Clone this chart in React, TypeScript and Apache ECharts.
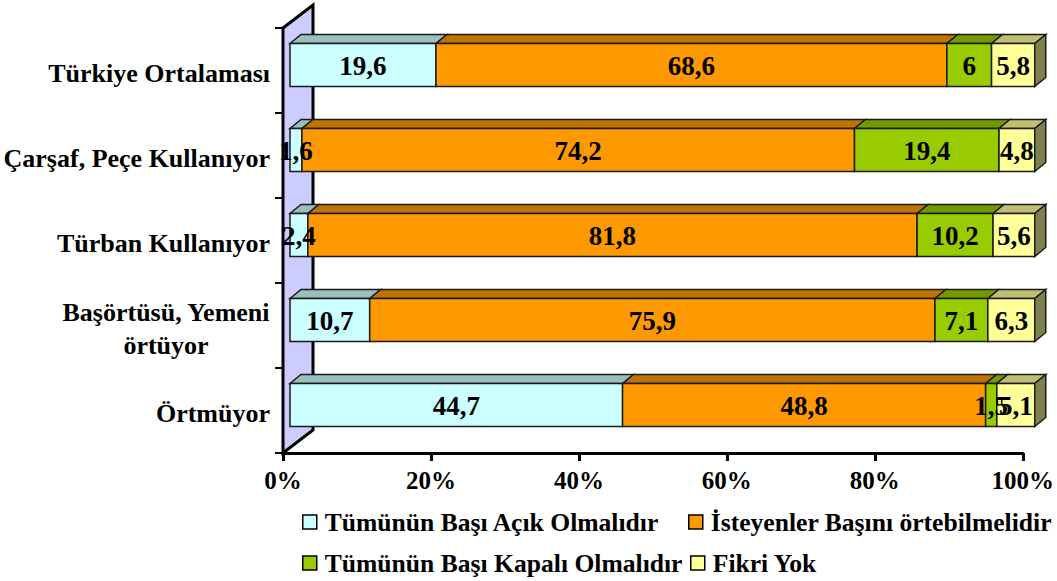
import React, { useEffect, useRef } from "react";
import * as echarts from "echarts";

const categories = [
  "Türkiye Ortalaması",
  "Çarşaf, Peçe Kullanıyor",
  "Türban Kullanıyor",
  "Başörtüsü, Yemeni\nörtüyor",
  "Örtmüyor",
];
const seriesNames = [
  "Tümünün Başı Açık Olmalıdır",
  "İsteyenler Başını örtebilmelidir",
  "Tümünün Başı Kapalı Olmalıdır",
  "Fikri Yok",
];
const acik = [19.6, 1.6, 2.4, 10.7, 44.7];
const isteyen = [68.6, 74.2, 81.8, 75.9, 48.8];
const kapali = [6, 19.4, 10.2, 7.1, 1.5];
const fikri = [5.8, 4.8, 5.6, 6.3, 5.1];
const xTicks = [0, 20, 40, 60, 80, 100];

const FRONT = ["#ccffff", "#ff9900", "#99cc00", "#ffff99"];
const TOP = ["#99bfbf", "#bf7300", "#739900", "#bfbf73"];
const SIDE = "#80804d";
const FONT = "'Liberation Serif', 'Times New Roman', serif";

const values = [acik, isteyen, kapali, fikri];

export default function App() {
  const ref = useRef<HTMLDivElement>(null);
  useEffect(() => {
    if (!ref.current) return;
    const chart = echarts.init(ref.current, null, { renderer: "svg" });

    const totals = categories.map((_, c) => values.reduce((s, arr) => s + arr[c], 0));
    const segData = values.map((arr, si) =>
      arr.map((v, c) => {
        let start = 0;
        for (let k = 0; k < si; k++) start += (values[k][c] / totals[c]) * 100;
        const end = start + (v / totals[c]) * 100;
        return [start, end, c, v];
      })
    );
    const labelData: number[][] = [];
    segData.forEach((arr) => arr.forEach((d) => labelData.push(d)));

    const DX = 11;
    const DY = 9;
    const geom = (api: any, s: number, e: number, c: number) => {
      const base = api.coord([0, c]);
      const p0 = api.coord([s, c]);
      const p1 = api.coord([e, c]);
      const band = api.size([0, 1])[1];
      const k = 745 / 740;
      const x0 = base[0] + 7 + (p0[0] - base[0]) * k;
      const x1 = base[0] + 7 + (p1[0] - base[0]) * k;
      const h = band * 0.506;
      const cy = p0[1] - band * 0.065;
      return { x0, x1, yt: cy - h / 2, yb: cy + h / 2, cy };
    };
    const stroke = "#1a1a1a";

    const segSeries = segData.map((data, si) => ({
      type: "custom",
      name: seriesNames[si],
      z: 2,
      itemStyle: { color: FRONT[si], borderColor: "#000", borderWidth: 1 },
      data,
      renderItem: (params: any, api: any) => {
        const s = api.value(0), e = api.value(1), c = api.value(2);
        const g = geom(api, s, e, c);
        const children: any[] = [
          {
            type: "polygon",
            shape: {
              points: [
                [g.x0, g.yt],
                [g.x0 + DX, g.yt - DY],
                [g.x1 + DX, g.yt - DY],
                [g.x1, g.yt],
              ],
            },
            style: { fill: TOP[si], stroke, lineWidth: 1.5 },
          },
          {
            type: "rect",
            shape: { x: g.x0, y: g.yt, width: g.x1 - g.x0, height: g.yb - g.yt },
            style: { fill: FRONT[si], stroke, lineWidth: 1.5 },
          },
        ];
        if (si === values.length - 1) {
          children.push({
            type: "polygon",
            shape: {
              points: [
                [g.x1, g.yt],
                [g.x1 + DX, g.yt - DY],
                [g.x1 + DX, g.yb - DY],
                [g.x1, g.yb],
              ],
            },
            style: { fill: SIDE, stroke, lineWidth: 1.5 },
          });
        }
        return { type: "group", children };
      },
    }));

    const labelSeries = {
      type: "custom",
      name: "labels",
      z: 3,
      data: labelData,
      renderItem: (params: any, api: any) => {
        const s = api.value(0), e = api.value(1), c = api.value(2), v = api.value(3);
        const g = geom(api, s, e, c);
        return {
          type: "text",
          style: {
            x: (g.x0 + g.x1) / 2,
            y: g.cy + 1,
            text: String(v).replace(".", ","),
            align: "center",
            verticalAlign: "middle",
            fontFamily: FONT,
            fontWeight: "bold",
            fontSize: 27,
            fill: "#000",
          },
        };
      },
    };

    const legendPos = [
      { left: 302, top: 509 },
      { left: 688, top: 509 },
      { left: 302, top: 550 },
      { left: 690, top: 550 },
    ];
    const legends = seriesNames.map((n, i) => ({
      show: true,
      left: legendPos[i].left,
      top: legendPos[i].top,
      icon: "rect",
      itemWidth: 14,
      itemHeight: 14,
      itemGap: 5,
      padding: 0,
      selectedMode: false,
      data: [{ name: n, itemStyle: { color: FRONT[i], borderColor: "#000", borderWidth: 1.5 } }],
      textStyle: { fontFamily: FONT, fontWeight: "bold", fontSize: 25.6, color: "#000", padding: [0, 0, 0, 3] },
    }));

    chart.setOption({
      animation: false,
      backgroundColor: "#fff",
      grid: { left: 283, right: 34, top: 28, bottom: 128 },
      xAxis: {
        type: "value",
        min: 0,
        max: 100,
        interval: 20,
        splitLine: { show: false },
        axisLine: { show: true, lineStyle: { color: "#000", width: 3 } },
        axisTick: { show: true, length: 8, lineStyle: { color: "#000", width: 3 } },
        axisLabel: {
          formatter: (v: number) => (xTicks.includes(v) ? v + "%" : ""),
          fontFamily: FONT,
          fontWeight: "bold",
          fontSize: 25,
          color: "#000",
          margin: 15,
        },
      },
      yAxis: {
        type: "category",
        data: categories,
        inverse: true,
        axisLine: { show: false },
        axisTick: { show: true, length: 8, lineStyle: { color: "#000", width: 2 } },
        axisLabel: {
          margin: 13,
          fontFamily: FONT,
          fontWeight: "bold",
          fontSize: 26,
          color: "#000",
          padding: [6, 0, 0, 0],
          formatter: (v: string) =>
            v.includes("\n")
              ? v.split("\n").map((l) => "{c|" + l + "}").join("\n")
              : v,
          rich: {
            c: { align: "center", fontFamily: FONT, fontWeight: "bold", fontSize: 26, color: "#000", lineHeight: 33 },
          },
        },
      },
      legend: legends,
      graphic: [
        {
          type: "polygon",
          z: 0,
          shape: { points: [[283, 28], [313, 5], [313, 430], [283, 453]] },
          style: { fill: "#ccccff", stroke: "#000", lineWidth: 3 },
        },
      ],
      series: [...segSeries, labelSeries],
    } as any);

    return () => chart.dispose();
  }, []);
  return (
    <div
      ref={ref}
      style={{ position: "absolute", left: 0, top: 0, width: 1057, height: 581 }}
    />
  );
}
